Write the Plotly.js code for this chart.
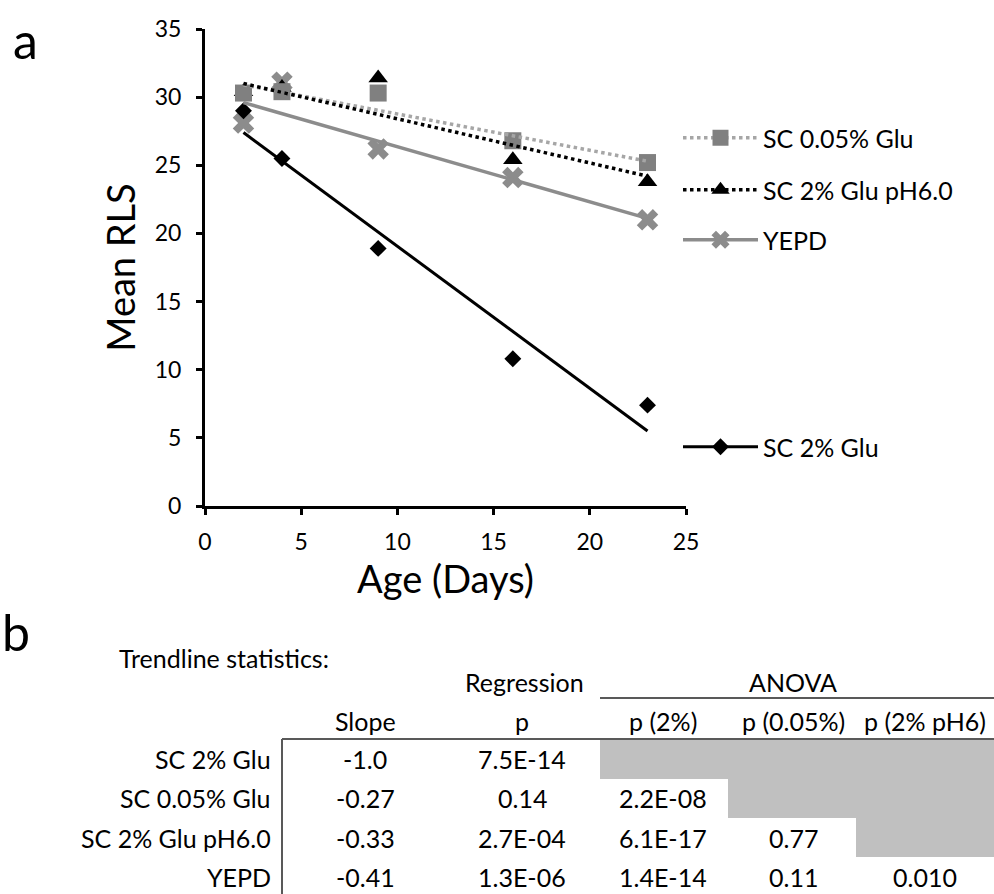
<!DOCTYPE html>
<html><head><meta charset="utf-8">
<script src="https://cdn.plot.ly/plotly-3.0.1.min.js"></script>
<style>html,body{margin:0;padding:0;background:#fff;} #chart{width:994px;height:894px;}</style>
</head><body><div id="chart"></div>
<script>
// ---------- data ----------
const days = [2, 4, 9, 16, 23];
const sc2Glu = [29.0, 25.5, 18.9, 10.8, 7.4];
const sc005Glu = [30.3, 30.4, 30.3, 26.8, 25.2];
const sc2GluPH6 = [30.4, 30.7, 31.4, 25.4, 23.8];
const yepd = [28.1, 31.1, 26.2, 24.1, 21.0];

const trendDays = [2, 23];
const trendSc2Glu = [27.4, 5.5];
const trendSc005Glu = [30.9, 25.3];
const trendSc2GluPH6 = [31.0, 24.2];
const trendYepd = [29.6, 21.1];

const seriesNames = ['SC 0.05% Glu', 'SC 2% Glu pH6.0', 'YEPD', 'SC 2% Glu'];

const rowLabels = ['SC 2% Glu', 'SC 0.05% Glu', 'SC 2% Glu pH6.0', 'YEPD'];
const colHeaders = ['Slope', 'p', 'p (2%)', 'p (0.05%)', 'p (2% pH6)'];
const slopes = ['-1.0', '-0.27', '-0.33', '-0.41'];
const regressionP = ['7.5E-14', '0.14', '2.7E-04', '1.3E-06'];
const anovaP2 = ['', '2.2E-08', '6.1E-17', '1.4E-14'];
const anovaP005 = ['', '', '0.77', '0.11'];
const anovaPH6 = ['', '', '', '0.010'];

// ---------- layout helpers ----------
const FONT = 'Lato, "Open Sans", sans-serif';
const L = 205, R = 686, T = 29, B = 506;
const fx = p => (p - L) / (R - L);
const fy = p => (B - p) / (B - T);

const sty = {
  sq: {symbol: 'square', size: 17, color: '#808080'},
  tri: {symbol: 'triangle-up', size: 17, color: '#000000'},
  x: {symbol: 'x', size: 19, color: '#8c8c8c'},
  dia: {symbol: 'diamond', size: 13, color: '#000000'}
};
const lines = {
  sq: {color: '#a6a6a6', width: 3.5, dash: 'dot'},
  tri: {color: '#000000', width: 3.5, dash: 'dot'},
  x: {color: '#8c8c8c', width: 3.5, dash: 'solid'},
  dia: {color: '#000000', width: 3, dash: 'solid'}
};

const traces = [
  {x: days, y: yepd, mode: 'markers', marker: sty.x, showlegend: false},
  {x: days, y: sc2Glu, mode: 'markers', marker: sty.dia, showlegend: false},
  {x: days, y: sc2GluPH6, mode: 'markers', marker: sty.tri, showlegend: false},
  {x: days, y: sc005Glu, mode: 'markers', marker: sty.sq, showlegend: false},
  {x: trendDays, y: trendYepd, mode: 'lines', line: lines.x, showlegend: false},
  {x: trendDays, y: trendSc2Glu, mode: 'lines', line: lines.dia, showlegend: false},
  {x: trendDays, y: trendSc005Glu, mode: 'lines', line: lines.sq, showlegend: false},
  {x: trendDays, y: trendSc2GluPH6, mode: 'lines', line: lines.tri, showlegend: false},
  // legend entries
  {x: [null], y: [null], mode: 'lines+markers', name: seriesNames[0], marker: sty.sq, line: lines.sq, legend: 'legend'},
  {x: [null], y: [null], mode: 'lines+markers', name: seriesNames[1], marker: sty.tri, line: lines.tri, legend: 'legend2'},
  {x: [null], y: [null], mode: 'lines+markers', name: seriesNames[2], marker: sty.x, line: lines.x, legend: 'legend3'},
  {x: [null], y: [null], mode: 'lines+markers', name: seriesNames[3], marker: sty.dia, line: lines.dia, legend: 'legend4'}
];

function mkLegend(py) {
  return {x: fx(678), y: fy(py), xanchor: 'left', yanchor: 'middle',
    font: {family: FONT, size: 25, color: '#000'}, bgcolor: 'rgba(0,0,0,0)',
    itemwidth: 75, borderwidth: 0};
}

// ---------- table (annotations + shapes) ----------
const annotations = [];
const shapes = [];
const txt = (text, px, py, size, xanchor) => annotations.push({
  text: text, xref: 'paper', yref: 'paper', x: fx(px), y: fy(py),
  xanchor: xanchor || 'center', yanchor: 'middle', showarrow: false,
  font: {family: FONT, size: size, color: '#000'}
});

txt('a', 25, 40, 50);
txt('b', 16, 632, 50);
txt('Trendline statistics:', 117, 658, 25, 'left');
txt('Regression', 524, 682, 25);
txt('ANOVA', 793, 682, 25);

const colX = [365, 522, 663, 793, 925];
const rowY = [759, 798, 838, 877];
const rowEdges = [739, 779, 818, 857];
const anovaEdges = [600, 728, 856, 994];
colHeaders.forEach((h, j) => txt(h, colX[j], 721, 25));

const columns = [slopes, regressionP, anovaP2, anovaP005, anovaPH6];
rowLabels.forEach((lab, i) => {
  txt(lab, 273, rowY[i], 25, 'right');
  columns.forEach((col, j) => {
    if (col[i] !== '') {
      txt(col[i], colX[j], rowY[i], 25);
    } else {
      const k = j - 2;
      shapes.push({type: 'rect', xref: 'paper', yref: 'paper', layer: 'below',
        x0: fx(anovaEdges[k]), x1: fx(anovaEdges[k + 1]),
        y0: fy(rowEdges[i]), y1: fy(rowEdges[i + 1] !== undefined ? rowEdges[i + 1] : rowEdges[i] + 39),
        fillcolor: '#c0c0c0', line: {width: 0}});
    }
  });
});

const lineStyle = {color: '#595959', width: 2};
shapes.push({type: 'line', xref: 'paper', yref: 'paper', x0: fx(600), x1: fx(994), y0: fy(698), y1: fy(698), line: lineStyle});
shapes.push({type: 'line', xref: 'paper', yref: 'paper', x0: fx(282), x1: fx(994), y0: fy(739), y1: fy(739), line: lineStyle});
shapes.push({type: 'line', xref: 'paper', yref: 'paper', x0: fx(282), x1: fx(282), y0: fy(739), y1: fy(894), line: lineStyle});

const axisCommon = {
  showgrid: false, zeroline: false, showline: true, linecolor: '#000', linewidth: 3,
  ticks: 'outside', ticklen: 6, tickwidth: 3, tickcolor: '#000',
  tickfont: {family: FONT, size: 23, color: '#000'}, dtick: 5, tick0: 0
};

const layout = {
  width: 994, height: 894,
  margin: {l: L, r: 994 - R, t: T, b: 894 - B},
  paper_bgcolor: '#fff', plot_bgcolor: '#fff',
  font: {family: FONT, color: '#000'},
  xaxis: Object.assign({}, axisCommon, {range: [0, 25], ticklabelstandoff: 7,
    title: {text: 'Age (Days)', font: {family: FONT, size: 38, color: '#000'}, standoff: 10}}),
  yaxis: Object.assign({}, axisCommon, {range: [0, 35], ticklabelstandoff: 10,
    title: {text: 'Mean RLS', font: {family: FONT, size: 38, color: '#000'}, standoff: 8}}),
  legend: mkLegend(138),
  legend2: mkLegend(190),
  legend3: mkLegend(240),
  legend4: mkLegend(447),
  annotations: annotations,
  shapes: shapes
};

Plotly.newPlot('chart', traces, layout, {displayModeBar: false, staticPlot: true});
</script></body></html>
